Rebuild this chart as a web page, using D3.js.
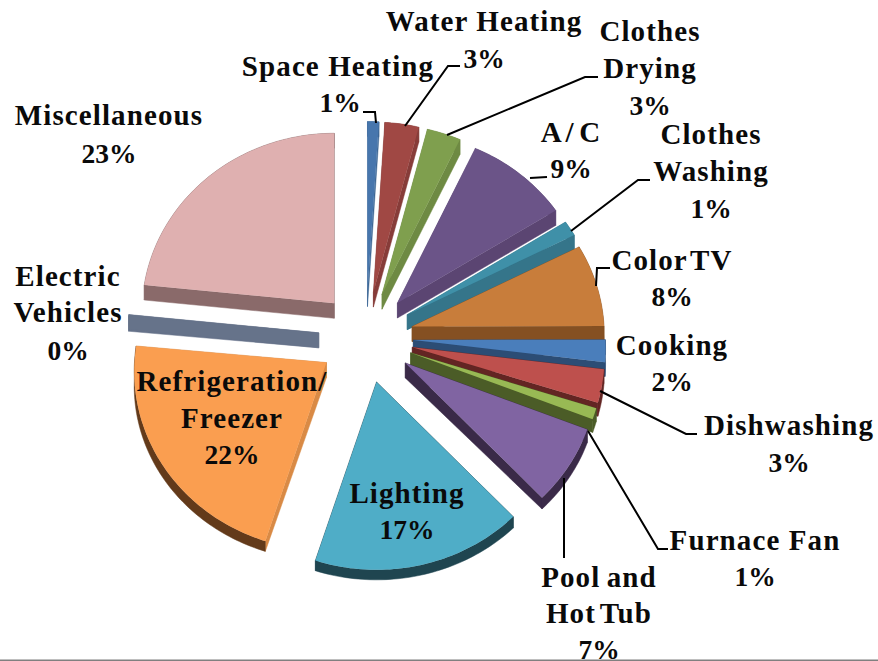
<!DOCTYPE html>
<html><head><meta charset="utf-8">
<style>html,body{margin:0;padding:0;background:#fff;overflow:hidden}svg{display:block}
text{font-family:"Liberation Serif",serif;font-weight:700;font-size:29px;fill:#0a0a0a;text-anchor:middle}</style>
<script src="https://cdn.jsdelivr.net/npm/d3@7/dist/d3.min.js"></script>
</head><body><svg id="c" width="878" height="661"></svg>
<script>
// data
const categories = ["Space Heating","Water Heating","Clothes Drying","A/C","Clothes Washing","Color TV","Cooking","Dishwashing","Furnace Fan","Pool and Hot Tub","Lighting","Refrigeration/ Freezer","Electric Vehicles","Miscellaneous"];
const values = [1,3,3,9.1,1.4,7.5,2,3,1,7,17,21.6,0.15,23.4];
// label line breaks
const labelLines = [["Space Heating"],["Water Heating"],["Clothes","Drying"],["A / C"],["Clothes","Washing"],["Color TV"],["Cooking"],["Dishwashing"],["Furnace Fan"],["Pool and","Hot Tub"],["Lighting"],["Refrigeration/","Freezer"],["Electric","Vehicles"],["Miscellaneous"]];
// styles
const topColors =  ["#4776ad","#a04844","#7f9f4e","#6b5488","#3f90a8","#c87d3b","#4a7ebb","#be504d","#98b954","#8064a2","#4fadc7","#fa9e50","#66738a","#dfb0b0"];
const cutColors =  ["#3c6694","#873c39","#6e8a43","#5b4572","#35758a","#855022","#2c4d75","#632523","#4b5c27","#3a2a48","#1f4550","#d98a45","#66738a","#8a6a6a"];
const rimColors =  ["#3c6694","#873c39","#6e8a43","#5b4572","#35758a","#855022","#2c4d75","#632523","#4b5c27","#3a2a48","#1f4550","#633a1a","#66738a","#8a6a6a"];
// layout: label centre x, first baseline, per-line step; leader polylines
const labelPos = [[338,76,[0,36]],[484,31,[0,37]],[650,41,[0,37,74]],[571,142,[0,36]],[711,144,[0,37,74]],[672,270,[0,36]],[672,355,[0,36]],[789,435,[0,37]],[755,550,[0,36]],[599,587,[0,36,72]],[407,503,[0,36]],[232,391,[0,37,73]],[68,286,[0,36,74]],[109,125,[0,38]]];
const pctOffsetX = [2,0,0,0,0,0,0,0,0,0,0,0,0,0];
const tightWords = {"Color TV":-5,"Hot Tub":-4,"A / C":-4,"Pool and":-2};
const leaders = [
 [[363,112],[375,112],[376,123]],
 [[405,126],[448,66],[460,66]],
 [[447,135],[585,77],[598,77]],
 [[530,178],[547,177]],
 [[571,231],[638,180],[650,180]],
 [[596,286],[597,268],[610,268]],
 [[600,391],[686,434],[697,434]],
 [[588,431],[658,549],[668,549]],
 [[564,478],[564,558]]
];
const cx=366, cy=337.3, explode=47.4, explodeSq=.966, R=192, squash=.932, persp=.05;

const svg=d3.select("#c");
const pie=d3.pie().value(d=>d).sort(null)(values);
const rScale=d3.scaleLinear().domain([0,1]).range([0,R]);
const line=d3.line();

function project(apex,a,r,z){
  const X=rScale(r)*Math.sin(a), Y=-rScale(r)*Math.cos(a);
  const s=1+persp*Y/R;
  const depth=15-5*Math.max(0,Y)/R;
  return [apex[0]+X*s, apex[1]+Y*squash*s+z*depth];
}
const slices=pie.map((p,i)=>{
  const mid=(p.startAngle+p.endAngle)/2;
  const apex=[cx+explode*Math.sin(mid), cy-explode*explodeSq*Math.cos(mid)];
  return {p,i,mid,apex};
}).sort((a,b)=>a.apex[1]-b.apex[1]);

const g=svg.append("g");
slices.forEach(s=>{
  const {p,i,apex}=s;
  const n=Math.max(2,Math.ceil((p.endAngle-p.startAngle)/0.02));
  const angs=d3.range(n+1).map(k=>p.startAngle+(p.endAngle-p.startAngle)*k/n);
  const arcTop=angs.map(a=>project(apex,a,1,0));
  const arcBot=angs.map(a=>project(apex,a,1,1));
  const a0=project(apex,0,0,0), a1=project(apex,0,0,1);
  // cut faces
  [[arcTop[0],arcBot[0]],[arcTop[n],arcBot[n]]].forEach(e=>{
    g.append("path").attr("d",line([a0,e[0],e[1],a1])+"Z").attr("fill",cutColors[i]).attr("stroke",cutColors[i]).attr("stroke-width",.5);
  });
  // rim
  g.append("path").attr("d",line(arcTop.concat(arcBot.slice().reverse()))+"Z").attr("fill",rimColors[i]).attr("stroke",rimColors[i]).attr("stroke-width",.5);
  // top
  g.append("path").attr("d",line([a0].concat(arcTop))+"Z").attr("fill",topColors[i]);
});

// leader lines
svg.append("g").selectAll("path").data(leaders).join("path")
  .attr("d",d=>line(d)).attr("fill","none").attr("stroke","#000").attr("stroke-width",2);

// labels
labelLines.forEach((lines,i)=>{
  const [x,y,steps]=labelPos[i];
  const t=svg.append("g");
  lines.forEach((l,k)=>{
    t.append("text").attr("x",x).attr("y",y+steps[k]).attr("letter-spacing",1.1)
     .attr("word-spacing",tightWords[l]||0).text(l);
  });
  t.append("text").attr("x",x+pctOffsetX[i]).attr("y",y+steps[lines.length])
   .style("font-size","27.5px").text(Math.round(values[i])+"%");
});

// bottom rule
svg.append("rect").attr("x",0).attr("y",659.5).attr("width",878).attr("height",1.5).attr("fill","#808080");
</script></body></html>
